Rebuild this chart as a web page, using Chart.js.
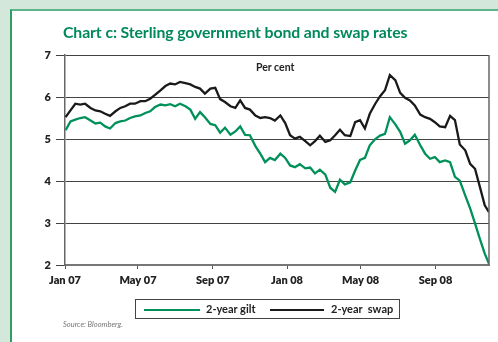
<!DOCTYPE html>
<html>
<head>
<meta charset="utf-8">
<script src="https://cdn.jsdelivr.net/npm/chart.js@4"></script>
<style>
  html, body { margin: 0; padding: 0; }
  body { width: 498px; height: 342px; background: #d4e7db; position: relative; overflow: hidden; font-family: Lato, "Open Sans", sans-serif; }
  #panel { position: absolute; left: 10px; top: 9px; right: 0; bottom: 0; background: #fff; border-left: 2px solid #2f9e65; border-top: 2px solid #5db489; }
  #c { position: absolute; left: 0; top: 0; }
  #title { position: absolute; left: 63px; top: 22px; font-size: 15.8px; font-weight: 700; color: #00895a; white-space: nowrap; letter-spacing: -0.1px; }
  #unit { position: absolute; left: 256px; top: 61px; font-size: 10.5px; font-weight: 700; color: #222; }
  #legend { position: absolute; left: 135px; top: 299px; width: 263px; height: 18px; border: 1px solid #444; font-size: 11px; font-weight: 700; color: #222; }
  .sw { position: absolute; top: 9px; height: 2px; }
  .lb { position: absolute; top: 2px; white-space: pre; }
  #source { position: absolute; left: 63px; top: 320px; font-size: 7.5px; font-style: italic; color: #777; }
</style>
</head>
<body>
<div id="panel"></div>
<canvas id="c" width="498" height="342"></canvas>
<div id="title">Chart c: Sterling government bond and swap rates</div>
<div id="unit">Per cent</div>
<div id="legend">
  <div class="sw" style="left:8px;width:56px;background:#00915a"></div>
  <div class="lb" style="left:70px">2-year gilt</div>
  <div class="sw" style="left:134px;width:54px;background:#1a1a1a"></div>
  <div class="lb" style="left:195px">2-year  swap</div>
</div>
<div id="source">Source: Bloomberg.</div>
<script>
// Observation dates (roughly weekly sampling of the daily series)
const dates = [
  '2007-01-02','2007-01-10','2007-01-18','2007-01-26','2007-02-03','2007-02-12','2007-02-20','2007-02-28',
  '2007-03-08','2007-03-16','2007-03-25','2007-04-02','2007-04-10','2007-04-18','2007-04-26','2007-05-05',
  '2007-05-13','2007-05-21','2007-05-29','2007-06-07','2007-06-15','2007-06-23','2007-07-01','2007-07-09',
  '2007-07-18','2007-07-26','2007-08-03','2007-08-11','2007-08-19','2007-08-28','2007-09-05','2007-09-13',
  '2007-09-21','2007-09-30','2007-10-08','2007-10-16','2007-10-24','2007-11-01','2007-11-10','2007-11-18',
  '2007-11-26','2007-12-04','2007-12-12','2007-12-21','2007-12-29','2008-01-06','2008-01-14','2008-01-22',
  '2008-01-31','2008-02-08','2008-02-16','2008-02-24','2008-03-04','2008-03-12','2008-03-20','2008-03-28',
  '2008-04-05','2008-04-14','2008-04-22','2008-04-30','2008-05-08','2008-05-16','2008-05-25','2008-06-02',
  '2008-06-10','2008-06-18','2008-06-27','2008-07-05','2008-07-13','2008-07-21','2008-07-29','2008-08-07',
  '2008-08-15','2008-08-23','2008-08-31','2008-09-08','2008-09-17','2008-09-25','2008-10-03','2008-10-11',
  '2008-10-20','2008-10-28','2008-11-05','2008-11-13','2008-11-21','2008-11-28'
];

// 2-year gilt yield, per cent
const gilt = [
  5.21,5.42,5.46,5.50,5.52,5.44,5.37,5.39,5.30,5.25,5.38,5.42,5.44,5.50,5.54,5.56,
  5.62,5.66,5.76,5.82,5.80,5.83,5.78,5.84,5.78,5.70,5.48,5.64,5.52,5.36,5.33,5.15,
  5.27,5.10,5.18,5.30,5.10,5.09,4.83,4.65,4.45,4.55,4.50,4.65,4.55,4.37,4.33,4.40,
  4.30,4.32,4.18,4.27,4.15,3.84,3.74,4.03,3.92,3.97,4.25,4.50,4.55,4.85,5.00,5.08,
  5.12,5.52,5.35,5.17,4.89,4.97,5.10,4.85,4.65,4.53,4.57,4.45,4.49,4.45,4.10,4.01,
  3.65,3.35,2.99,2.62,2.27,2.03
];

// 2-year swap rate, per cent
const swap = [
  5.52,5.68,5.84,5.82,5.84,5.74,5.68,5.66,5.60,5.55,5.66,5.74,5.78,5.84,5.84,5.90,
  5.90,5.96,6.05,6.16,6.26,6.32,6.30,6.36,6.33,6.30,6.24,6.20,6.08,6.20,6.22,5.95,
  5.88,5.78,5.74,5.92,5.74,5.70,5.56,5.50,5.52,5.50,5.44,5.56,5.38,5.09,5.01,5.05,
  4.95,4.85,4.95,5.08,4.93,4.97,5.09,5.22,5.09,5.07,5.40,5.45,5.25,5.60,5.84,6.02,
  6.16,6.52,6.40,6.10,5.98,5.92,5.80,5.58,5.52,5.48,5.40,5.30,5.28,5.55,5.45,4.87,
  4.73,4.41,4.29,3.86,3.42,3.26
];

// Axis labels
const tickDates = ['2007-01-01','2007-05-01','2007-09-01','2008-01-01','2008-05-01','2008-09-01'];
const tickLabels = ['Jan 07','May 07','Sep 07','Jan 08','May 08','Sep 08'];
const yTicks = [2, 3, 4, 5, 6, 7];

const DAY = 86400000;
const origin = Date.parse(tickDates[0]);
const toDay = d => (Date.parse(d) - origin) / DAY;
const xs = dates.map(toDay);
const tickDays = tickDates.map(toDay);

const font = { family: 'Lato, "Open Sans", sans-serif', size: 11, weight: '800' };

// Right-hand frame edge of the plot area
const frame = {
  id: 'frame',
  afterDraw(chart) {
    const { ctx, chartArea: a } = chart;
    ctx.save();
    ctx.strokeStyle = '#666';
    ctx.lineWidth = 1.5;
    ctx.beginPath();
    ctx.moveTo(a.right, a.top);
    ctx.lineTo(a.right, a.bottom);
    ctx.stroke();
    ctx.restore();
  }
};

new Chart(document.getElementById('c'), {
  type: 'line',
  data: {
    datasets: [
      { label: '2-year gilt', data: xs.map((x, i) => ({ x, y: gilt[i] })), borderColor: '#00915a', borderWidth: 2.3, pointRadius: 0, tension: 0 },
      { label: '2-year  swap', data: xs.map((x, i) => ({ x, y: swap[i] })), borderColor: '#1a1a1a', borderWidth: 2.3, pointRadius: 0, tension: 0 }
    ]
  },
  options: {
    responsive: false,
    animation: false,
    events: [],
    layout: { padding: { left: 0, right: 9, top: 55, bottom: 0 } },
    plugins: { legend: { display: false }, title: { display: false }, tooltip: { enabled: false } },
    scales: {
      x: {
        type: 'linear',
        min: 0,
        max: xs[xs.length - 1],
        afterBuildTicks(scale) { scale.ticks = tickDays.map(v => ({ value: v })); },
        afterFit(scale) { scale.height = 77; },
        ticks: {
          autoSkip: false,
          maxRotation: 0,
          padding: 5,
          color: '#222',
          font,
          callback(value) { const i = tickDays.indexOf(value); return i >= 0 ? tickLabels[i] : ''; }
        },
        grid: { drawOnChartArea: false, drawTicks: true, tickLength: 4, color: '#555', lineWidth: 1 },
        border: { display: true, color: '#777', width: 2 }
      },
      y: {
        min: yTicks[0],
        max: yTicks[yTicks.length - 1],
        afterBuildTicks(scale) { scale.ticks = yTicks.map(v => ({ value: v })); },
        afterFit(scale) { scale.width = 65; },
        ticks: { padding: 5, color: '#222', font },
        grid: { color: '#444', lineWidth: 1, tickLength: 9 },
        border: { display: true, color: '#666', width: 1.5 }
      }
    }
  },
  plugins: [frame]
});
</script>
</body>
</html>
